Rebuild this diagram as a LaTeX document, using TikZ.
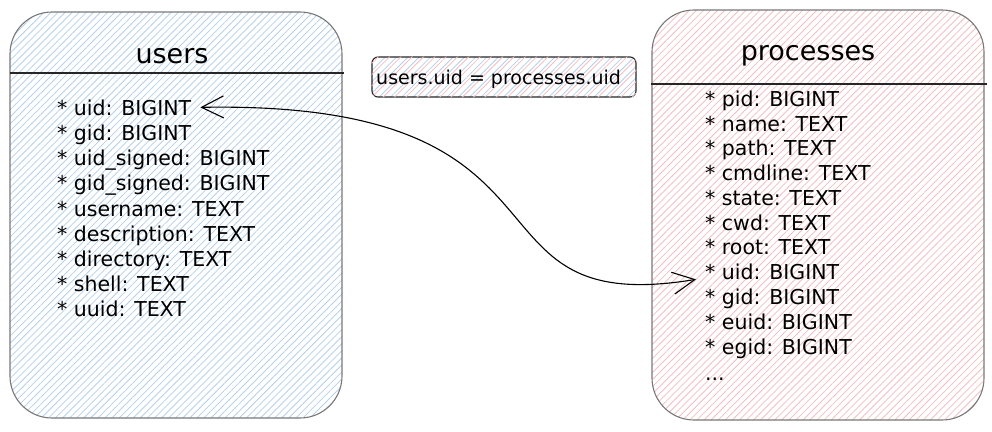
\documentclass[tikz,border=0pt]{standalone}
\usepackage{fontspec}
\setmainfont{DejaVu Sans}
\usetikzlibrary{arrows.meta,patterns.meta}
\definecolor{ublue}{RGB}{180,208,234}
\definecolor{ppink}{RGB}{242,190,194}
\definecolor{boxgray}{RGB}{120,120,120}
\tikzset{
  tablebox/.style={draw=boxgray, line width=1.1pt, rounded corners=42pt, inner sep=0pt},
  userfill/.style={pattern={Lines[angle=45,distance=5pt,line width=0.8pt]}, pattern color=ublue},
  procfill/.style={pattern={Lines[angle=45,distance=5pt,line width=0.8pt]}, pattern color=ppink},
  title/.style={font=\fontsize{27}{30}\selectfont, inner sep=0pt},
  item/.style={font=\fontsize{20.5}{24}\selectfont, anchor=base west, inner sep=1pt},
  headline/.style={line width=1.1pt, draw=black!85},
  joinarrow/.style={line width=1.1pt, {Straight Barb[length=22pt,width=22pt,line width=1.1pt]}-{Straight Barb[length=22pt,width=22pt,line width=1.1pt]}},
  labelbox/.style={draw=black!85, line width=1.1pt, rounded corners=6pt, minimum width=264pt, minimum height=40pt, inner sep=0pt}
}
\begin{document}
\begin{tikzpicture}[x=1pt,y=-1pt]
\useasboundingbox (0,0) rectangle (992,431);
% users table
\node[tablebox, userfill, minimum width=332pt, minimum height=406pt] (users) at (176,215) {};
\node[title, anchor=base] (utitle) at (172,63) {users};
\draw[headline] (users.west |- 0,73) -- ([xshift=2pt]users.east |- 0,73);
\node[item] (u1) at (56,115) {* uid: BIGINT};
\node[item] (u2) at (56,140) {* gid: BIGINT};
\node[item] (u3) at (56,165) {* uid\_signed: BIGINT};
\node[item] (u4) at (56,190) {* gid\_signed: BIGINT};
\node[item] (u5) at (56,216) {* username: TEXT};
\node[item] (u6) at (56,241) {* description: TEXT};
\node[item] (u7) at (56,266) {* directory: TEXT};
\node[item] (u8) at (56,291) {* shell: TEXT};
\node[item] (u9) at (56,316) {* uuid: TEXT};
% processes table
\node[tablebox, procfill, minimum width=332pt, minimum height=410pt] (procs) at (818,215) {};
\node[title, anchor=base] (ptitle) at (808,60) {processes};
\draw[headline] (procs.west |- 0,84) -- ([xshift=2pt]procs.east |- 0,84);
\node[item] (p1) at (704,106) {* pid: BIGINT};
\node[item] (p2) at (704,131) {* name: TEXT};
\node[item] (p3) at (704,155) {* path: TEXT};
\node[item] (p4) at (704,180) {* cmdline: TEXT};
\node[item] (p5) at (704,205) {* state: TEXT};
\node[item] (p6) at (704,230) {* cwd: TEXT};
\node[item] (p7) at (704,254) {* root: TEXT};
\node[item] (p8) at (704,279) {* uid: BIGINT};
\node[item] (p9) at (704,304) {* gid: BIGINT};
\node[item] (p10) at (704,329) {* euid: BIGINT};
\node[item] (p11) at (704,354) {* egid: BIGINT};
\node[item] (p12) at (704,380) {...};
% join label
\node[labelbox, pattern={Lines[angle=45,distance=8pt,line width=0.8pt]}, pattern color=ublue] (join) at (504,77) {};
\path[pattern={Lines[angle=45,distance=8pt,xshift=4pt,line width=0.8pt]}, pattern color=ppink, rounded corners=6pt] (join.south west) rectangle (join.north east);
\node[font=\fontsize{19}{22}\selectfont, anchor=base west, inner sep=0pt] (jointext) at (376,84) {users.uid = processes.uid};
% connector
\coordinate (ua) at ([xshift=8pt]u1.east);
\coordinate (pa) at ([xshift=-8pt,yshift=-8pt]p8.west);
\draw[joinarrow] (ua) .. controls (600,100) and (450,320) .. (pa);
\end{tikzpicture}
\end{document}
